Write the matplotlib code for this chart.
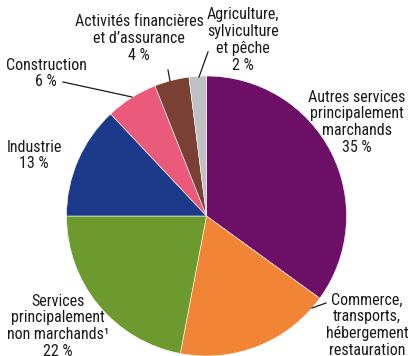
import matplotlib.pyplot as plt
from matplotlib import font_manager

# pick a narrow face if one is installed
fonts = font_manager.fontManager.ttflist
names = {f.name for f in fonts}
font_kw = {}
if "Liberation Sans Narrow" in names:
    font_kw = dict(family="Liberation Sans Narrow", fontsize=11.5)
elif "Roboto Condensed" in names:
    font_kw = dict(family="Roboto Condensed", fontsize=11.5)
elif any("DejaVuSansCondensed" in f.fname for f in fonts):
    font_kw = dict(family="DejaVu Sans", fontstretch="condensed", fontsize=10.5)
else:
    font_kw = dict(family="Roboto", fontsize=11)

# sectors, clockwise from the top
labels = ["Autres services\nprincipalement\nmarchands\n35 %",
          "Commerce,\ntransports,\nhébergement\nrestauration\n18 %",
          "Services\nprincipalement\nnon marchands¹\n22 %",
          "Industrie\n13 %",
          "Construction\n6 %",
          "Activités financières\net d’assurance\n4 %",
          "Agriculture,\nsylviculture\net pêche\n2 %"]
shares = [35, 18, 22, 13, 6, 4, 2]
colors = ["#6d0f66", "#f28535", "#6c9a2f", "#1d3a8a", "#ec5a7b", "#7a4034", "#bfc0c2"]

# label anchors (pixels, top-left origin): x centre, y of first line centre
label_pos = [(357, 98), (367, 301), (58, 302), (34, 148), (46, 66), (139, 23), (243, 16)]
# leader lines (pixels)
leaders = {"Construction": [(63, 82), (132, 97)],
           "Activités": [(168, 70), (170, 81)],
           "Agriculture": [(208, 52), (199, 77)],
           "Commerce": [(312, 308), (326, 303)]}

W, H = 409, 356
fig = plt.figure(figsize=(W / 100, H / 100), dpi=100)
ax = fig.add_axes([0, 0, 1, 1])

cx, cy, r = 206.5, 216, 140
ax.pie(shares, colors=colors, startangle=90, counterclock=False,
       center=(cx, H - cy), radius=r,
       wedgeprops=dict(edgecolor="white", linewidth=0.4))
ax.set_xlim(0, W)
ax.set_ylim(0, H)
ax.set_aspect("equal")
ax.axis("off")

for lab, (x, y) in zip(labels, label_pos):
    ax.text(x, H - y + 8.5, lab, ha="center", va="top",
            linespacing=1.14, color="#1a1a1a", **font_kw)

for pts in leaders.values():
    xs = [p[0] for p in pts]
    ys = [H - p[1] for p in pts]
    ax.plot(xs, ys, color="#1a1a1a", lw=0.9)

fig.savefig("out.png", dpi=100)
